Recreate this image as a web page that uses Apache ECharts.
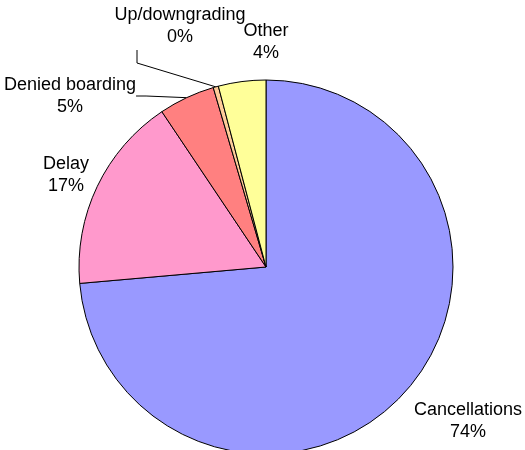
<!DOCTYPE html>
<html>
<head>
<meta charset="utf-8">
<script src="https://cdn.jsdelivr.net/npm/echarts@6/dist/echarts.min.js"></script>
<style>
  html, body { margin: 0; padding: 0; background: #fff; }
  #chart { width: 525px; height: 450px; }
</style>
</head>
<body>
<div id="chart"></div>
<script>
// complaint categories, clockwise from 12 o'clock
var categories = ['Cancellations', 'Delay', 'Denied boarding', 'Up/downgrading', 'Other'];
var values = [73.6, 17.0, 4.85, 0.45, 4.1];
var colors = ['#9999FF', '#FF99CC', '#FF8080', '#FFCC99', '#FFFF99'];

// where each label sits (centre of the text block)
var labelPos = [
  [468, 421],
  [66, 175],
  [70, 96],
  [180, 26],
  [266, 42]
];
var showLine = [false, false, true, true, false];

var chart = echarts.init(document.getElementById('chart'), null, { renderer: 'canvas' });

var data = categories.map(function (name, i) {
  return {
    name: name,
    value: values[i],
    itemStyle: { color: colors[i] },
    labelLine: { show: showLine[i] }
  };
});

chart.setOption({
  animation: false,
  series: [{
    type: 'pie',
    center: [266, 267],
    radius: 187,
    startAngle: 90,
    clockwise: true,
    avoidLabelOverlap: false,
    itemStyle: { borderColor: '#000', borderWidth: 1 },
    emphasis: { disabled: true },
    label: {
      show: true,
      position: 'outside',
      color: '#000',
      fontFamily: 'Liberation Sans, Arial, sans-serif',
      fontSize: 18,
      lineHeight: 22,
      align: 'center',
      formatter: function (p) {
        return p.name + '\n' + Math.round(p.percent) + '%';
      }
    },
    labelLine: {
      show: false,
      length: 10,
      length2: 10,
      lineStyle: { color: '#000', width: 1 }
    },
    labelLayout: function (params) {
      var i = params.dataIndex;
      var pos = labelPos[i];
      var out = {
        x: pos[0],
        y: pos[1],
        align: 'center',
        verticalAlign: 'middle'
      };
      // elbow leader for the tiny slice, dropping from under "0%"
      if (i === 3 && params.labelLinePoints) {
        var start = params.labelLinePoints[0];
        var r = params.labelRect;
        var lx = pos[0] - 43;
        var ly = pos[1] + 24;
        out.labelLinePoints = [start, [lx, ly + 13], [lx, ly]];
      }
      return out;
    },
    data: data
  }]
});
</script>
</body>
</html>
